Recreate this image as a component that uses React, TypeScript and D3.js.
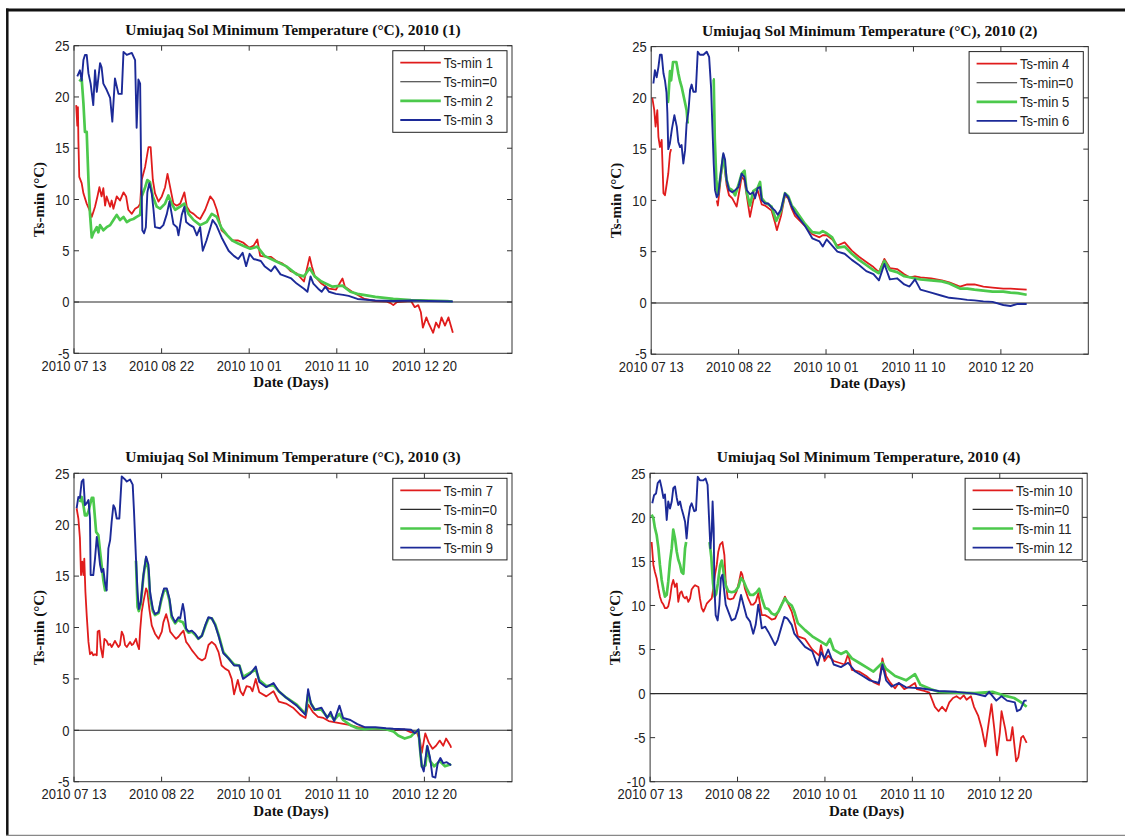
import React from 'react';
import * as d3 from 'd3';

type Pt = [number, number | null];

// ---------- shared axis content ----------
const xTickDays = [0, 40, 80, 120, 160];
const xTickLabels = ['2010 07 13', '2010 08 22', '2010 10 01', '2010 11 10', '2010 12 20'];
const xDomain: [number, number] = [0, 200];
const zeroLine: Pt[] = [[0, 0], [200, 0]];

// ---------- panel 1 ----------
const p1Ts1: Pt[] = [[1.0,19.2],[1.5,17.2],[1.8,19.0],[2.0,15.8],[2.4,12.2],[3.5,11.6],[4.3,10.6],[5.8,9.6],[7.0,9.0],[8.1,8.3],[9.6,9.3],[10.7,10.3],[11.6,11.2],[12.6,10.3],[13.4,11.1],[14.2,9.4],[14.9,10.3],[16.5,9.3],[17.2,9.9],[18.0,9.1],[19.5,10.3],[21.0,9.9],[22.6,10.7],[23.8,10.3],[24.8,9.0],[26.4,8.6],[27.9,9.1],[29.4,9.3],[30.2,9.6],[30.9,11.9],[32.5,13.2],[34.0,15.1],[35.0,15.1],[36.0,11.9],[37.0,10.6],[38.6,9.8],[40.1,10.3],[41.6,11.2],[42.7,12.5],[43.9,11.2],[45.4,9.6],[46.9,9.4],[48.5,9.6],[50.4,10.7],[51.5,9.3],[53.0,8.8],[54.6,8.6],[56.1,8.3],[57.6,8.1],[59.9,9.0],[62.2,10.3],[63.7,9.9],[65.2,9.0],[67.4,7.0],[70.0,6.5],[72.3,6.0],[75.0,6.0],[77.2,5.8],[80.0,5.3],[82.0,5.5],[83.7,6.1],[85.0,4.5],[88.0,4.4],[90.0,4.4],[92.4,4.0],[94.8,3.8],[96.8,3.5],[99.0,3.0],[101.7,2.8],[105.0,2.0],[107.6,4.4],[108.6,3.5],[110.0,2.5],[113.0,1.8],[116.4,1.3],[119.6,1.2],[122.6,2.3],[123.7,1.5],[127.0,1.0],[132.7,0.3],[137.6,0.1],[142.5,0.05],[144.5,-0.1],[145.8,-0.3],[147.5,0.0],[153.9,0.1],[155.6,-0.5],[157.2,-0.3],[158.4,-1.0],[159.3,-2.5],[160.9,-1.5],[161.8,-2.0],[164.0,-3.0],[165.3,-2.0],[166.6,-2.5],[167.8,-1.5],[169.4,-2.3],[171.0,-1.5],[173.0,-3.0]];
const p1Ts2: Pt[] = [[2.5,21.5],[3.5,21.8],[4.3,19.4],[5.0,16.6],[5.8,16.6],[6.1,14.8],[6.6,11.9],[7.3,8.6],[8.1,6.3],[8.8,6.7],[10.4,7.3],[11.1,6.8],[11.9,7.5],[13.4,7.0],[14.9,7.3],[16.5,7.5],[18.0,8.0],[19.5,8.5],[21.0,8.0],[22.6,8.3],[24.1,7.8],[25.6,8.0],[27.1,8.1],[28.6,8.3],[30.2,8.5],[30.9,10.3],[32.5,11.2],[33.5,11.9],[34.7,11.7],[36.0,10.3],[37.8,9.3],[39.3,9.1],[41.6,9.6],[43.1,10.4],[44.6,9.6],[46.2,9.0],[48.5,9.3],[50.4,9.6],[52.3,8.6],[54.6,8.0],[57.6,7.5],[60.6,7.8],[62.9,8.6],[65.2,8.3],[67.4,7.2],[70.0,6.5],[72.3,6.0],[75.0,5.7],[77.2,5.5],[80.5,5.2],[83.7,5.4],[87.0,4.5],[91.9,4.0],[96.8,3.5],[101.7,2.7],[105.0,2.5],[107.6,3.3],[109.9,2.5],[113.0,2.0],[118.0,1.5],[122.6,1.6],[126.2,1.0],[129.4,0.8],[137.6,0.5],[145.8,0.3],[153.9,0.2],[162.0,0.15],[170.3,0.1],[172.7,0.05]];
const p1Ts3: Pt[] = [[1.5,22.0],[2.7,22.6],[3.5,21.6],[4.3,23.6],[5.0,24.1],[5.8,24.1],[6.6,22.3],[7.6,21.3],[8.8,19.2],[9.6,22.6],[10.4,20.5],[11.9,23.3],[12.6,22.9],[13.4,21.3],[14.9,20.7],[16.5,19.9],[17.5,17.6],[18.7,21.8],[20.3,20.3],[21.8,20.3],[22.6,24.4],[24.1,24.1],[26.4,24.3],[27.9,23.6],[28.6,17.0],[29.4,21.7],[30.2,21.3],[30.6,14.0],[31.2,7.0],[32.0,6.7],[32.8,7.3],[33.5,10.7],[34.4,11.6],[35.5,10.6],[36.3,9.0],[37.0,7.3],[39.3,7.2],[40.8,7.5],[42.4,8.6],[43.6,9.8],[44.6,8.6],[45.4,7.6],[47.0,7.3],[47.7,6.5],[49.2,8.5],[50.4,9.3],[51.2,7.8],[53.0,7.5],[54.6,7.3],[56.1,6.5],[57.6,7.3],[58.8,5.0],[60.5,6.0],[63.3,8.0],[65.0,7.5],[67.4,6.3],[70.6,5.0],[73.0,4.5],[75.0,4.2],[77.0,4.8],[78.6,3.5],[80.2,4.7],[82.0,4.2],[85.3,4.0],[87.0,3.5],[90.0,3.0],[91.7,3.5],[94.3,2.7],[96.8,2.5],[99.2,2.3],[101.7,1.8],[105.0,1.3],[106.6,1.0],[108.0,2.5],[109.3,1.8],[111.5,1.3],[113.1,1.0],[114.8,1.5],[116.4,1.0],[119.6,0.8],[122.9,0.7],[125.4,0.6],[129.4,0.3],[137.6,0.15],[145.8,0.1],[153.9,0.15],[162.0,0.1],[173.0,0.05]];

// ---------- panel 2 ----------
const p2Ts4: Pt[] = [[0.5,20.0],[1.4,18.8],[2.0,17.2],[2.8,18.8],[3.3,16.2],[4.0,15.2],[4.8,15.9],[5.6,10.7],[6.3,10.5],[7.1,11.6],[7.8,12.6],[8.6,14.6],[9.1,15.0],[20,null],[30.0,10.0],[30.5,9.5],[32.0,12.5],[33.0,14.3],[34.5,11.5],[35.6,10.5],[37.1,10.2],[39.1,9.4],[40.0,10.5],[41.4,12.3],[42.6,12.0],[43.7,10.5],[45.2,8.4],[46.7,10.0],[48.7,11.0],[50.6,9.6],[52.1,9.5],[55.1,9.0],[56.7,7.8],[57.5,7.1],[59.4,8.5],[61.2,10.5],[62.7,10.2],[64.3,9.2],[65.8,8.5],[70.4,7.5],[73.7,6.7],[77.0,6.4],[78.5,6.6],[80.3,6.6],[82.8,6.2],[85.2,5.6],[88.5,5.9],[91.8,5.1],[95.1,4.5],[98.4,4.0],[101.7,3.5],[104.2,3.0],[106.7,4.3],[109.2,3.4],[112.5,3.3],[115.8,2.8],[118.2,2.5],[120.7,2.6],[123.2,2.5],[128.1,2.4],[133.0,2.2],[136.4,2.0],[141.3,1.6],[144.6,1.8],[147.9,1.8],[152.0,1.6],[156.2,1.5],[161.1,1.4],[164.4,1.4],[167.7,1.35],[171.8,1.3]];
const p2Ts5: Pt[] = [[7.6,19.5],[7.8,19.8],[8.6,22.6],[9.1,21.7],[10.0,23.5],[11.5,23.5],[12.4,22.4],[13.2,21.6],[13.9,21.1],[15.5,19.5],[16.2,18.8],[16.7,17.5],[20,null],[28.3,21.8],[28.6,21.8],[29.1,16.0],[29.8,12.0],[30.5,10.5],[32.0,12.8],[33.0,14.4],[34.5,12.0],[35.6,11.2],[37.1,11.0],[38.4,10.5],[39.9,11.5],[41.4,12.6],[42.7,12.9],[43.7,10.8],[45.2,9.5],[46.7,10.9],[48.7,11.2],[49.8,11.8],[50.6,10.2],[52.1,9.8],[55.1,9.4],[57.2,8.0],[59.4,9.0],[61.2,10.7],[62.7,10.4],[64.3,9.5],[65.5,9.2],[70.4,7.7],[73.7,6.9],[77.0,6.8],[78.5,7.0],[80.3,6.8],[82.8,6.4],[85.2,5.4],[88.5,5.5],[91.8,4.8],[95.1,4.2],[98.4,3.7],[101.7,3.2],[104.2,2.9],[106.7,4.1],[109.2,3.2],[112.5,3.0],[115.8,2.6],[118.2,2.5],[120.7,2.4],[123.2,2.3],[128.1,2.2],[133.0,2.1],[136.4,1.9],[141.3,1.4],[144.6,1.4],[147.9,1.3],[152.0,1.2],[156.2,1.1],[161.1,1.1],[164.4,1.0],[167.7,0.95],[171.8,0.8]];
const p2Ts6: Pt[] = [[1.0,21.4],[1.7,22.7],[2.5,22.0],[3.3,23.0],[4.0,24.2],[4.8,24.2],[5.6,22.4],[6.3,21.7],[7.0,20.5],[7.4,18.5],[7.8,15.0],[8.5,15.5],[9.5,17.0],[10.6,18.3],[11.7,17.2],[12.4,15.7],[13.2,15.2],[13.9,15.4],[14.7,13.6],[15.5,14.9],[16.2,17.5],[17.0,18.6],[17.8,20.8],[18.5,21.3],[19.3,20.6],[20.4,20.6],[21.3,24.5],[22.3,24.2],[23.9,24.2],[25.4,24.5],[26.5,24.0],[27.4,21.0],[28.0,17.2],[28.6,13.6],[29.2,11.0],[30.0,10.3],[30.7,10.6],[32.0,13.0],[33.0,14.6],[33.8,14.0],[34.5,12.0],[35.6,11.0],[37.1,10.8],[38.4,11.0],[39.9,11.3],[41.4,12.6],[42.6,12.3],[43.7,11.0],[45.2,10.6],[46.7,10.8],[47.5,10.2],[48.7,11.2],[49.8,11.3],[50.6,10.0],[52.1,9.7],[53.6,9.7],[55.1,9.3],[56.7,9.0],[57.9,8.6],[59.4,9.1],[61.2,10.7],[62.7,10.3],[64.3,9.4],[65.8,8.8],[70.4,7.5],[73.7,6.3],[77.0,6.0],[78.5,5.5],[80.3,6.2],[82.8,5.6],[85.2,5.0],[88.5,4.8],[91.8,4.2],[95.1,3.7],[98.4,3.1],[101.7,2.8],[104.2,2.2],[106.7,3.8],[109.2,2.3],[112.5,2.4],[115.8,1.8],[118.2,1.6],[120.7,2.3],[123.2,1.3],[128.1,1.0],[133.0,0.7],[136.4,0.5],[141.3,0.4],[144.6,0.3],[147.9,0.25],[152.0,0.15],[156.2,0.1],[161.1,-0.2],[164.4,-0.3],[167.7,-0.1],[171.8,-0.1]];

// ---------- panel 3 ----------
const p3Ts7: Pt[] = [[1.2,21.6],[2.0,20.6],[2.7,18.7],[3.2,15.1],[3.8,16.4],[4.3,15.1],[4.7,16.7],[5.2,13.5],[5.8,11.2],[6.6,8.6],[7.3,7.4],[8.1,7.6],[8.8,7.3],[9.6,7.4],[10.4,7.3],[10.8,9.6],[11.6,9.7],[12.2,8.1],[13.1,7.1],[13.9,8.9],[14.9,8.7],[15.7,8.3],[16.5,8.4],[17.2,8.1],[18.0,8.4],[18.7,8.7],[19.5,8.4],[20.3,8.1],[21.0,8.3],[21.8,9.6],[22.6,9.2],[23.3,8.3],[24.1,8.1],[25.6,8.6],[26.4,8.3],[27.1,8.4],[28.3,8.9],[29.0,8.3],[29.7,7.9],[30.2,9.7],[30.9,11.5],[31.7,12.5],[32.9,13.8],[33.5,13.5],[34.4,11.8],[35.5,10.2],[37.0,9.4],[38.6,8.9],[40.1,9.6],[40.8,10.5],[42.1,11.3],[43.1,10.5],[43.9,9.6],[45.4,9.2],[46.6,8.9],[47.7,9.1],[48.8,9.4],[50.0,9.7],[51.2,8.6],[52.3,8.3],[53.8,7.8],[55.3,7.4],[56.8,7.0],[58.4,6.8],[59.9,7.0],[61.4,8.3],[62.9,8.6],[64.5,8.3],[66.0,7.6],[67.4,6.3],[69.0,6.0],[70.6,5.8],[72.0,5.0],[73.1,3.5],[74.8,4.9],[76.0,3.8],[77.2,3.4],[78.8,4.3],[80.5,4.2],[81.5,3.8],[83.0,5.0],[84.6,3.7],[87.8,3.3],[91.1,3.8],[93.5,2.8],[96.8,2.6],[100.0,2.2],[103.3,1.5],[105.7,1.2],[106.9,2.5],[109.0,1.8],[111.4,1.3],[113.9,1.2],[116.3,0.9],[121.2,0.7],[126.2,0.5],[129.4,0.3],[137.6,0.15],[142.5,0.1],[145.8,0.0],[150.7,0.1],[153.9,-0.2],[156.4,-0.1],[158.0,-1.0],[158.8,-2.2],[160.4,-0.3],[162.0,-1.2],[163.7,-1.8],[165.3,-1.5],[167.0,-1.0],[168.6,-1.5],[169.9,-0.8],[171.9,-1.5],[172.2,-1.7]];
const p3Ts8: Pt[] = [[2.7,22.2],[3.5,22.7],[4.3,21.9],[5.0,20.9],[5.8,20.9],[6.6,21.3],[8.1,22.6],[8.8,22.6],[9.6,20.6],[10.1,19.3],[11.1,19.0],[11.9,17.4],[12.6,16.1],[13.4,14.6],[14.2,13.6],[14.9,13.8],[20,null],[28.3,16.5],[29.0,12.0],[29.6,11.6],[30.5,12.3],[31.7,15.0],[32.9,16.7],[34.0,15.6],[34.7,13.0],[36.0,11.6],[37.0,11.2],[38.6,11.4],[39.8,12.6],[41.1,13.6],[42.4,13.6],[43.6,12.6],[44.6,11.0],[46.2,10.4],[47.7,10.8],[48.5,10.6],[49.7,10.5],[50.4,10.2],[51.2,9.8],[52.3,9.5],[53.8,9.6],[55.3,9.3],[56.8,8.9],[58.4,9.2],[59.9,10.1],[61.4,10.9],[62.9,10.9],[64.5,10.3],[66.0,9.3],[68.2,7.6],[70.6,7.0],[73.1,6.4],[75.5,6.3],[77.2,5.2],[80.5,5.6],[83.0,5.9],[84.6,4.9],[87.8,4.3],[91.1,4.4],[93.5,3.8],[96.8,3.2],[101.7,2.5],[105.7,1.6],[106.9,3.5],[108.2,2.6],[109.9,2.0],[113.0,2.0],[115.6,1.3],[117.2,1.5],[118.8,1.0],[121.2,1.6],[122.9,1.0],[126.2,0.5],[129.4,0.2],[132.7,0.1],[137.6,0.2],[142.5,0.1],[145.8,-0.1],[148.0,-0.5],[151.0,-0.8],[153.9,-0.6],[155.6,-0.2],[157.3,0.0],[158.0,-1.8],[158.8,-3.5],[159.7,-3.5],[160.5,-3.4],[161.3,-1.6],[162.6,-3.0],[164.5,-3.5],[167.0,-3.0],[169.4,-3.5],[172.2,-3.3]];
const p3Ts9: Pt[] = [[1.2,21.6],[2.0,22.7],[2.7,22.6],[3.5,24.2],[4.3,24.4],[5.0,21.9],[5.8,22.1],[6.6,22.4],[7.3,20.6],[7.6,15.1],[8.8,15.1],[9.6,16.7],[10.4,18.8],[11.1,17.7],[11.9,16.1],[12.6,15.4],[13.4,15.7],[14.2,14.3],[14.9,13.6],[15.7,17.7],[16.5,18.5],[17.2,20.3],[18.0,21.9],[18.7,21.6],[19.5,20.6],[20.7,20.6],[21.8,24.7],[23.3,24.4],[24.1,24.2],[25.6,24.4],[26.8,23.9],[27.4,21.3],[28.3,16.7],[29.0,13.5],[29.6,11.8],[30.5,12.5],[31.7,15.1],[32.9,16.9],[34.0,16.1],[34.7,13.5],[36.0,11.8],[37.0,11.3],[38.6,11.5],[39.8,12.8],[41.1,13.8],[42.4,13.8],[43.6,12.8],[44.6,11.2],[46.2,10.5],[47.7,11.0],[48.5,10.9],[49.7,12.3],[50.4,11.5],[51.2,9.9],[52.3,9.6],[53.8,9.7],[55.3,9.4],[56.8,8.9],[58.4,9.2],[59.9,10.2],[61.4,11.0],[62.9,10.9],[64.5,10.2],[66.0,9.2],[68.2,7.5],[70.6,7.0],[73.1,6.3],[75.5,6.3],[77.2,5.0],[80.5,5.5],[83.0,6.2],[84.6,4.7],[87.8,4.2],[91.1,4.6],[93.5,3.8],[96.8,3.2],[101.7,2.4],[105.7,1.5],[106.9,4.0],[108.2,2.6],[109.9,2.0],[113.0,2.2],[115.6,1.2],[117.2,1.8],[118.8,0.9],[121.2,2.4],[122.9,1.2],[126.2,1.0],[129.4,0.6],[132.7,0.3],[137.6,0.3],[142.5,0.2],[145.8,0.15],[150.7,0.1],[153.9,0.05],[155.6,-0.3],[157.3,0.1],[158.0,-1.8],[158.8,-3.5],[159.7,-4.0],[161.3,-1.5],[162.6,-2.7],[163.7,-4.5],[165.0,-4.6],[166.1,-3.2],[167.3,-2.7],[168.6,-3.2],[170.2,-3.1],[172.2,-3.4]];

// ---------- panel 4 ----------
const p4Ts10: Pt[] = [[0.7,17.2],[1.5,14.6],[2.2,13.8],[3.0,13.1],[3.8,11.9],[4.5,11.0],[5.3,10.4],[6.1,10.1],[6.8,9.7],[7.6,9.7],[8.3,9.9],[9.1,10.8],[9.9,12.3],[10.6,12.9],[11.4,12.1],[12.2,12.5],[12.9,10.4],[13.7,11.4],[14.4,11.6],[15.2,11.0],[16.0,10.8],[16.7,11.0],[17.5,10.4],[18.3,10.8],[19.0,11.8],[19.8,12.1],[20.6,12.3],[22.1,12.1],[22.8,10.8],[23.6,9.7],[24.4,9.3],[25.1,9.7],[25.9,10.2],[27.4,10.6],[28.2,10.8],[28.9,11.9],[29.7,13.5],[30.5,14.6],[31.2,16.1],[32.0,16.9],[33.1,17.2],[34.0,15.7],[34.6,12.7],[35.5,10.8],[36.6,10.7],[38.1,10.8],[39.6,11.6],[40.7,12.7],[41.6,13.8],[42.2,13.5],[43.4,11.9],[44.9,10.8],[46.2,10.1],[47.2,10.1],[48.3,10.4],[49.5,11.4],[50.3,10.1],[51.1,8.9],[52.6,8.9],[54.1,8.7],[55.6,8.4],[57.2,8.5],[58.7,9.3],[60.2,10.1],[61.7,11.0],[63.3,10.1],[64.8,9.3],[66.0,8.2],[67.6,6.5],[70.9,6.2],[74.2,5.0],[77.4,4.3],[78.2,5.5],[79.8,3.7],[81.5,4.3],[84.0,3.7],[89.0,3.3],[90.6,4.5],[92.3,2.7],[95.6,2.5],[98.9,2.0],[102.2,1.3],[104.7,1.0],[106.3,4.0],[108.0,2.0],[109.7,1.3],[112.1,0.6],[113.8,1.2],[116.3,0.5],[118.8,0.8],[121.2,1.2],[122.1,0.5],[125.4,0.3],[127.8,0.1],[130.3,-1.5],[132.0,-2.0],[133.6,-1.5],[135.3,-2.0],[136.9,-1.0],[138.6,-0.5],[140.2,-0.3],[141.9,-0.6],[143.5,-0.2],[144.8,-0.7],[146.8,-0.3],[148.2,-1.5],[150.1,-2.5],[151.8,-4.0],[153.4,-6.0],[155.1,-3.0],[156.2,-1.2],[157.5,-4.0],[158.7,-7.0],[160.0,-4.5],[160.8,-2.0],[162.5,-4.0],[163.3,-5.3],[164.9,-5.3],[165.8,-3.8],[167.5,-7.7],[168.5,-7.2],[169.8,-5.0],[170.7,-4.8],[172.3,-5.6]];
const p4Ts11: Pt[] = [[0.7,20.3],[1.5,19.9],[2.2,18.8],[3.0,18.0],[3.8,16.5],[4.5,14.6],[5.3,12.9],[6.1,11.8],[6.8,11.0],[7.6,11.2],[8.3,12.7],[9.1,15.0],[9.9,16.5],[10.6,18.6],[11.4,17.6],[12.2,16.1],[12.9,15.2],[13.7,14.6],[14.4,13.8],[15.2,13.6],[16.0,16.5],[16.5,17.2],[20,null],[27.2,17.2],[28.0,15.5],[28.8,12.5],[29.5,11.0],[30.2,11.3],[31.0,12.5],[32.0,14.5],[32.8,15.1],[33.8,13.5],[34.6,12.3],[35.8,11.6],[37.3,11.5],[38.9,11.6],[40.4,12.1],[41.6,13.1],[42.7,12.8],[44.2,11.9],[45.7,11.2],[47.2,11.2],[48.7,11.5],[49.9,11.9],[51.1,10.8],[52.6,9.7],[54.1,9.6],[55.6,9.1],[57.2,8.9],[58.7,9.3],[60.2,10.1],[61.7,10.8],[63.2,10.3],[64.8,10.0],[66.0,9.3],[67.6,8.0],[70.9,7.2],[74.2,6.5],[77.4,6.0],[80.7,5.5],[82.3,6.2],[84.0,5.0],[87.3,4.5],[89.8,4.8],[92.3,4.0],[95.6,3.5],[98.9,3.0],[102.2,2.5],[106.3,3.5],[108.0,2.8],[112.1,2.0],[117.1,1.5],[121.2,2.2],[123.7,1.0],[128.6,0.5],[132.0,0.2],[140.2,0.1],[148.4,0.05],[156.7,0.2],[161.7,-0.2],[166.6,-0.5],[169.8,-1.0],[172.3,-1.5]];
const p4Ts12: Pt[] = [[1.0,21.6],[1.8,22.5],[2.7,22.7],[3.5,23.9],[4.5,24.2],[5.3,23.3],[6.1,22.2],[6.8,22.6],[7.6,19.7],[8.3,21.8],[9.1,21.0],[9.9,21.8],[10.6,23.3],[11.4,23.5],[12.2,22.2],[12.9,21.4],[13.7,21.8],[14.4,21.0],[15.2,20.3],[16.0,19.5],[16.7,17.6],[17.5,19.9],[18.3,21.2],[19.0,21.6],[20.2,20.7],[21.0,20.8],[21.8,24.6],[22.8,24.2],[24.4,24.2],[25.4,24.4],[26.3,23.7],[26.9,20.3],[27.6,16.5],[28.2,18.4],[28.6,21.8],[29.1,18.8],[29.4,12.3],[30.0,8.9],[30.9,8.3],[31.7,10.1],[32.4,13.1],[33.1,13.5],[33.8,11.9],[34.6,10.1],[35.8,9.3],[37.3,8.3],[38.9,8.5],[40.4,9.7],[41.6,11.2],[42.7,10.1],[44.2,8.7],[45.7,8.2],[47.2,6.8],[48.3,7.8],[49.5,10.1],[50.3,8.9],[51.1,7.4],[52.6,7.6],[54.1,7.0],[55.6,6.3],[57.2,5.5],[58.4,6.1],[59.9,7.4],[61.4,8.7],[62.9,8.5],[64.8,7.8],[66.0,6.8],[67.6,6.3],[70.9,5.3],[74.2,4.8],[76.6,3.2],[78.2,4.7],[79.8,4.0],[81.5,5.0],[84.0,3.3],[87.3,3.0],[90.6,3.5],[93.9,2.5],[97.3,2.0],[100.5,1.5],[104.7,1.2],[106.3,3.3],[108.0,1.5],[110.5,0.8],[113.8,1.2],[117.1,0.7],[123.7,0.6],[132.0,0.3],[140.2,0.2],[148.4,0.0],[153.4,-0.3],[155.1,0.2],[158.4,-0.8],[160.8,-0.3],[163.3,-0.8],[166.9,-1.0],[167.9,-2.0],[169.5,-1.8],[171.2,-0.8],[172.3,-0.8]];

// ---------- panel texts ----------
const titles = [
  'Umiujaq Sol Minimum Temperature (°C), 2010 (1)',
  'Umiujaq Sol Minimum Temperature (°C), 2010 (2)',
  'Umiujaq Sol Minimum Temperature (°C), 2010 (3)',
  'Umiujaq Sol Minimum Temperature, 2010 (4)',
];
const legendLabels = [
  ['Ts-min 1', 'Ts-min=0', 'Ts-min 2', 'Ts-min 3'],
  ['Ts-min 4', 'Ts-min=0', 'Ts-min 5', 'Ts-min 6'],
  ['Ts-min 7', 'Ts-min=0', 'Ts-min 8', 'Ts-min 9'],
  ['Ts-min 10', 'Ts-min=0', 'Ts-min 11', 'Ts-min 12'],
];
const yMins = [-5, -5, -5, -10];
const panelSeries: Pt[][][] = [
  [p1Ts1, zeroLine, p1Ts2, p1Ts3],
  [p2Ts4, zeroLine, p2Ts5, p2Ts6],
  [p3Ts7, zeroLine, p3Ts8, p3Ts9],
  [p4Ts10, zeroLine, p4Ts11, p4Ts12],
];

// ---------- layout / style ----------
const boxes = [
  { l: 74, r: 512, t: 45.7, b: 353.3, legW: 114.2 },
  { l: 651.2, r: 1088.3, t: 46.6, b: 354.2, legW: 114.2 },
  { l: 74, r: 512, t: 473.3, b: 781.7, legW: 114.2 },
  { l: 650.1, r: 1087.2, t: 473.3, b: 781.7, legW: 117.1 },
];
const seriesColors = ['#e01c1c', '#2a2a2a', '#4cc94c', '#1c2a98'];
const seriesWidths = [1.8, 1.1, 2.7, 1.9];
const sans = '"Liberation Sans", Arial, sans-serif';
const serif = '"Liberation Serif", "Times New Roman", serif';
const stretch = 1.15;

function SText({ x, y, anchor, children }: { x: number; y: number; anchor?: string; children: React.ReactNode }) {
  return (
    <text
      transform={`translate(${x},${y}) scale(1,${stretch})`}
      textAnchor={anchor || 'start'}
      fontFamily={sans}
      fontSize={13}
      fill="#222"
    >
      {children}
    </text>
  );
}

function Panel({ idx }: { idx: number }) {
  const bx = boxes[idx];
  const x = d3.scaleLinear().domain(xDomain).range([bx.l, bx.r]);
  const y = d3.scaleLinear().domain([yMins[idx], 25]).range([bx.b, bx.t]);
  const line = d3
    .line<Pt>()
    .defined((d) => d[1] !== null)
    .x((d) => x(d[0]))
    .y((d) => y(d[1] as number));
  const yTicks = d3.range(yMins[idx], 25.001, 5);
  const tl = 5;
  const cx = (bx.l + bx.r) / 2;
  const cy = (bx.t + bx.b) / 2;
  const clipId = `clip${idx}`;
  const legX = bx.r - 5 - bx.legW;
  const legY = bx.t + 5;
  return (
    <g>
      <defs>
        <clipPath id={clipId}>
          <rect x={bx.l} y={bx.t} width={bx.r - bx.l} height={bx.b - bx.t} />
        </clipPath>
      </defs>
      <rect x={bx.l} y={bx.t} width={bx.r - bx.l} height={bx.b - bx.t} fill="#fff" />
      {xTickDays.map((d, i) => (
        <g key={'xt' + i}>
          <line x1={x(d)} x2={x(d)} y1={bx.b} y2={bx.b - tl} stroke="#333" strokeWidth={1} />
          <line x1={x(d)} x2={x(d)} y1={bx.t} y2={bx.t + tl} stroke="#333" strokeWidth={1} />
          <SText x={x(d)} y={bx.b + 17.3} anchor="middle">
            {xTickLabels[i]}
          </SText>
        </g>
      ))}
      {yTicks.map((v, i) => (
        <g key={'yt' + i}>
          <line x1={bx.l} x2={bx.l + tl} y1={y(v)} y2={y(v)} stroke="#333" strokeWidth={1} />
          <line x1={bx.r} x2={bx.r - tl} y1={y(v)} y2={y(v)} stroke="#333" strokeWidth={1} />
          <SText x={bx.l - 4.5} y={y(v) + 5.2} anchor="end">
            {v}
          </SText>
        </g>
      ))}
      <g clipPath={`url(#${clipId})`}>
        {panelSeries[idx].map((s, i) => (
          <path
            key={'s' + i}
            d={line(s) || ''}
            fill="none"
            stroke={seriesColors[i]}
            strokeWidth={seriesWidths[i]}
            strokeLinejoin="round"
          />
        ))}
      </g>
      <rect x={bx.l} y={bx.t} width={bx.r - bx.l} height={bx.b - bx.t} fill="none" stroke="#333" strokeWidth={1} />
      <rect x={legX} y={legY} width={bx.legW} height={81.6} fill="#fff" stroke="#222" strokeWidth={1} />
      {legendLabels[idx].map((lab, i) => {
        const ry = legY + 12 + i * 19.1;
        return (
          <g key={'lg' + i}>
            <line x1={legX + 7.5} x2={legX + 48} y1={ry} y2={ry} stroke={seriesColors[i]} strokeWidth={seriesWidths[i]} />
            <SText x={legX + 51} y={ry + 5.3}>
              {lab}
            </SText>
          </g>
        );
      })}
      <text x={cx} y={bx.t - 11} textAnchor="middle" fontFamily={serif} fontWeight="bold" fontSize={15.5} fill="#111">
        {titles[idx]}
      </text>
      <text x={cx - 2} y={bx.b + 34} textAnchor="middle" fontFamily={serif} fontWeight="bold" fontSize={15} fill="#111">
        Date (Days)
      </text>
      <text
        transform={`translate(${bx.l - 30},${cy}) rotate(-90)`}
        textAnchor="middle"
        fontFamily={serif}
        fontWeight="bold"
        fontSize={15}
        fill="#111"
      >
        Ts-min (°C)
      </text>
    </g>
  );
}

export default function App() {
  return (
    <svg
      width={1125}
      height={836}
      style={{ position: 'absolute', left: 0, top: 0, background: '#fff' }}
      xmlns="http://www.w3.org/2000/svg"
    >
      <rect x={0} y={0} width={1125} height={836} fill="#fff" />
      {[0, 1, 2, 3].map((i) => (
        <Panel key={i} idx={i} />
      ))}
      <line x1={6} x2={1125} y1={10} y2={10} stroke="#111" strokeWidth={3} />
      <line x1={7.3} x2={7.3} y1={8.5} y2={836} stroke="#111" strokeWidth={2.5} />
      <line x1={6} x2={1125} y1={835.3} y2={835.3} stroke="#888" strokeWidth={1.2} />
    </svg>
  );
}
